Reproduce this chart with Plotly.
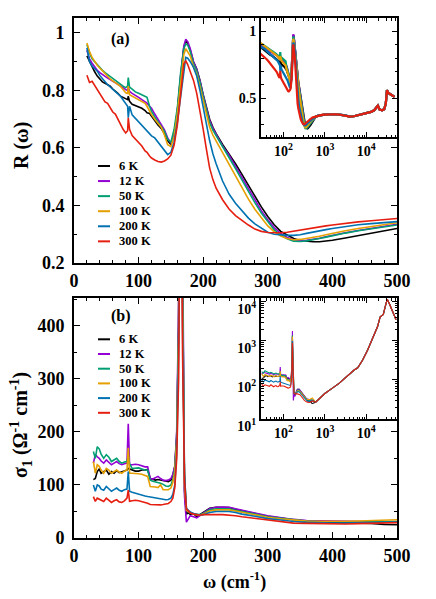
import plotly.graph_objects as go

# ---- data ----
temps = ["6 K", "12 K", "50 K", "100 K", "200 K", "300 K"]
colors = ["#000000", "#9400D3", "#009E73", "#E69F00", "#0072B2", "#E51E10"]

# panel (a): reflectivity, omega in cm-1
wn_a = [20, 24, 28, 32, 36, 40, 44, 48, 52, 56, 60, 64, 68, 72, 76, 80, 83, 84, 86, 90,
        95, 100, 105, 110, 113, 117, 120, 125, 130, 135, 140, 145, 150, 155, 160, 165, 170, 173, 176, 180,
        185, 190, 195, 200, 205, 210, 215, 220, 230, 240, 250, 260, 270, 280, 290, 300, 310, 320, 330, 340,
        350, 360, 370, 380, 390, 400, 420, 440, 460, 480, 500]

r_6K = [0.92, 0.90, 0.88, 0.865, 0.85, 0.84, 0.83, 0.825, 0.82, 0.815, 0.805, 0.798, 0.79, 0.78, 0.776, 0.772, 0.768, 0.78, 0.762, 0.752,
        0.747, 0.742, 0.738, 0.73, 0.722, 0.72, 0.71, 0.695, 0.68, 0.668, 0.65, 0.625, 0.612, 0.645, 0.727, 0.843, 0.95, 0.97, 0.965, 0.94,
        0.90, 0.875, 0.835, 0.785, 0.74, 0.70, 0.672, 0.65, 0.612, 0.58, 0.545, 0.508, 0.47, 0.432, 0.395, 0.362, 0.333, 0.31, 0.296, 0.285,
        0.278, 0.275, 0.274, 0.274, 0.276, 0.279, 0.287, 0.295, 0.304, 0.313, 0.32]
r_12K = [0.94, 0.91, 0.895, 0.882, 0.87, 0.862, 0.855, 0.848, 0.843, 0.838, 0.833, 0.828, 0.822, 0.818, 0.81, 0.803, 0.80, 0.812, 0.797, 0.79,
         0.784, 0.776, 0.768, 0.762, 0.756, 0.745, 0.738, 0.718, 0.70, 0.683, 0.663, 0.635, 0.617, 0.646, 0.73, 0.85, 0.955, 0.978, 0.97, 0.945,
         0.90, 0.873, 0.833, 0.783, 0.735, 0.695, 0.668, 0.647, 0.607, 0.575, 0.537, 0.497, 0.457, 0.418, 0.382, 0.35, 0.323, 0.303, 0.289, 0.281,
         0.278, 0.279, 0.282, 0.286, 0.291, 0.296, 0.305, 0.313, 0.32, 0.328, 0.335]
r_50K = [0.96, 0.93, 0.91, 0.90, 0.89, 0.878, 0.87, 0.862, 0.855, 0.848, 0.84, 0.835, 0.828, 0.82, 0.815, 0.81, 0.815, 0.845, 0.812, 0.805,
         0.795, 0.79, 0.785, 0.78, 0.776, 0.745, 0.727, 0.708, 0.692, 0.678, 0.658, 0.63, 0.62, 0.665, 0.74, 0.86, 0.945, 0.962, 0.958, 0.935,
         0.893, 0.868, 0.828, 0.778, 0.728, 0.688, 0.662, 0.642, 0.602, 0.567, 0.528, 0.488, 0.448, 0.41, 0.374, 0.343, 0.315, 0.297, 0.284, 0.276,
         0.275, 0.277, 0.28, 0.285, 0.29, 0.295, 0.304, 0.312, 0.319, 0.326, 0.332]
r_100K = [0.965, 0.935, 0.915, 0.90, 0.888, 0.878, 0.868, 0.858, 0.849, 0.84, 0.833, 0.826, 0.82, 0.814, 0.803, 0.792, 0.79, 0.815, 0.785, 0.78,
          0.772, 0.766, 0.76, 0.755, 0.745, 0.725, 0.716, 0.70, 0.685, 0.672, 0.645, 0.611, 0.605, 0.64, 0.72, 0.835, 0.925, 0.945, 0.935, 0.92,
          0.882, 0.857, 0.812, 0.762, 0.712, 0.672, 0.645, 0.625, 0.58, 0.54, 0.50, 0.46, 0.422, 0.387, 0.356, 0.329, 0.308, 0.294, 0.285, 0.281,
          0.282, 0.285, 0.289, 0.293, 0.298, 0.303, 0.312, 0.32, 0.327, 0.333, 0.34]
r_200K = [0.948, 0.90, 0.885, 0.875, 0.867, 0.852, 0.84, 0.83, 0.82, 0.812, 0.805, 0.798, 0.788, 0.78, 0.768, 0.758, 0.745, 0.705, 0.745, 0.715,
          0.703, 0.69, 0.68, 0.665, 0.66, 0.65, 0.642, 0.635, 0.62, 0.605, 0.588, 0.577, 0.585, 0.62, 0.69, 0.785, 0.88, 0.915, 0.912, 0.90,
          0.88, 0.85, 0.80, 0.74, 0.68, 0.625, 0.58, 0.545, 0.485, 0.44, 0.408, 0.38, 0.356, 0.336, 0.32, 0.307, 0.30, 0.297, 0.296, 0.296,
          0.298, 0.303, 0.308, 0.312, 0.316, 0.32, 0.327, 0.333, 0.337, 0.34, 0.344]
r_300K = [0.853, 0.828, 0.832, 0.818, 0.80, 0.79, 0.775, 0.76, 0.755, 0.74, 0.725, 0.718, 0.70, 0.685, 0.665, 0.652, 0.66, 0.705, 0.665, 0.643,
          0.63, 0.617, 0.607, 0.59, 0.585, 0.572, 0.565, 0.558, 0.553, 0.551, 0.555, 0.562, 0.575, 0.61, 0.68, 0.785, 0.893, 0.903, 0.89, 0.865,
          0.835, 0.79, 0.73, 0.665, 0.595, 0.53, 0.49, 0.46, 0.42, 0.388, 0.365, 0.347, 0.332, 0.318, 0.31, 0.306, 0.305, 0.305, 0.307, 0.311,
          0.315, 0.319, 0.323, 0.326, 0.329, 0.332, 0.338, 0.343, 0.347, 0.351, 0.355]

# inset (a): high-frequency part (all temperatures coincide)
wn_a_hi = [600, 700, 850, 1000, 1300, 1700, 2200, 3000, 4000, 5000, 6200, 8000, 10700, 13000, 15500, 17500, 19000,
           21000, 24000, 27000, 29500, 31500, 34000, 38000, 43000, 48000]
r_hi = [0.362, 0.37, 0.375, 0.378, 0.38, 0.38, 0.378, 0.372, 0.362, 0.365, 0.372, 0.38, 0.39, 0.398, 0.41, 0.43, 0.445,
        0.415, 0.41, 0.418, 0.46, 0.56, 0.54, 0.53, 0.52, 0.51]

# panel (b): optical conductivity
wn_b = [30, 33, 36, 39, 42, 46, 50, 54, 58, 62, 66, 70, 74, 78, 82, 84, 86, 90, 95, 100,
        105, 110, 114, 118, 122, 126, 130, 134, 138, 142, 146, 150, 153, 156, 159, 162, 165, 168, 171, 174,
        177, 180, 185, 190, 195, 200, 210, 220, 230, 240, 250, 260, 280, 300, 320, 340, 360, 380, 400, 420,
        440, 460, 480, 500]

s_6K = [110, 112, 125, 130, 122, 125, 128, 120, 125, 122, 127, 123, 125, 127, 128, 131, 130, 128, 126, 126,
        128, 128, 129, 112, 110, 109, 110, 109, 108, 106, 106, 109, 118, 135, 190, 400, 1300, 500, 90, 45,
        48, 44, 46, 40, 44, 47, 56, 58, 58, 57.5, 54, 51, 46, 41, 37.5, 34.5, 32, 30.5, 29.5, 29,
        28.5, 27.5, 25.5, 25]
s_12K = [141, 157, 153, 150, 145, 141, 147, 142, 138, 141, 144, 140, 138, 140, 141, 215, 138, 138, 139, 138,
         136, 134, 134, 112, 111, 113, 116, 112, 109, 108, 109, 112, 120, 135, 200, 450, 1800, 600, 80, 30,
         35, 42, 40, 38, 42, 47, 55, 58, 58.5, 58, 55, 52, 47, 42, 38, 35, 33, 32.5, 32, 31.5,
         31, 30.5, 30, 30]
s_50K = [163, 150, 172, 168, 158, 150, 157, 152, 144, 147, 150, 144, 141, 143, 144, 155, 140, 131, 131, 132,
         130, 128, 128, 109, 107, 106, 104, 103, 101, 98, 97, 100, 110, 130, 190, 400, 1400, 500, 120, 55,
         50, 47, 45, 44, 44, 46, 53, 55, 55.5, 55, 52, 50, 45, 40, 37, 34, 32, 31, 30.5, 30,
         30, 30.5, 31, 31]
s_100K = [144, 122, 138, 135, 128, 122, 131, 128, 122, 125, 128, 124, 122, 126, 128, 170, 122, 122, 122, 121,
          120, 118, 116, 97, 97, 96, 95, 100, 91, 90.6, 91, 94, 105, 125, 180, 380, 1300, 450, 100, 52,
          50, 48, 45, 44, 43, 45, 51, 53, 53, 53, 51, 48.6, 44, 39, 36, 33.5, 32, 31.5, 31, 31.5,
          32, 33, 34, 34.5]
s_200K = [100, 88, 100, 98, 92, 90, 97, 93, 88, 91, 94, 90, 88, 91, 92, 125, 88, 86, 84, 82,
          80, 79, 78, 77, 76, 75.5, 74, 73, 72, 72, 72.5, 75, 82, 100, 160, 350, 1000, 400, 120, 56,
          52, 49, 46, 44, 43, 44, 48, 50, 50.5, 50, 48, 45, 41, 36.5, 34, 31, 29.5, 28.5, 28, 28,
          28.5, 29, 29.5, 30]
s_300K = [78, 69, 75, 73, 70, 68.6, 75, 71, 67, 70, 72, 68, 67, 70, 75, 90, 69, 70, 71, 70,
          68.6, 67, 65.4, 63, 62.5, 62.3, 62, 62.3, 63, 63.5, 65, 68.6, 75, 95, 150, 300, 900, 350, 110, 55,
          50, 47, 45, 44, 43, 44, 44.5, 44, 44, 43.5, 42, 40, 37, 33, 30, 28, 27.5, 27, 26.5, 26.5,
          27, 27.5, 28.5, 29]

# inset (b): high-frequency part
wn_b_hi = [600, 700, 850, 1000, 1300, 1700, 2200, 3000, 4000, 5100, 6200, 8100, 10700, 14000, 18600, 21500,
           25700, 29000, 32000, 36000, 40000, 47000, 52000]
s_hi = [27, 32, 39, 45, 55, 66, 82, 110, 145, 180, 205, 320, 580, 1150, 2300, 4100,
        4800, 8000, 11700, 9000, 6800, 4100, 3500]

refl = [r_6K, r_12K, r_50K, r_100K, r_200K, r_300K]
cond = [s_6K, s_12K, s_50K, s_100K, s_200K, s_300K]

FONT = "Liberation Serif"
# the page body has an 8 px margin, so the figure is drawn 8 px smaller
OFF = 8
W, H = 436 - OFF, 599 - OFF


def px(xp):
    return (xp - OFF) / W


def py(yp):
    return 1 - (yp - OFF) / H


fig = go.Figure()

for name, col, r in zip(temps, colors, refl):
    fig.add_trace(go.Scatter(x=wn_a, y=r, mode="lines", name=name, line=dict(color=col, width=1.6),
                             xaxis="x", yaxis="y", showlegend=False))
for name, col, r in zip(temps, colors, refl):
    fig.add_trace(go.Scatter(x=wn_a + wn_a_hi, y=r + r_hi, mode="lines", showlegend=False,
                             line=dict(color=col, width=2.2), xaxis="x3", yaxis="y3"))
for name, col, s in zip(temps, colors, cond):
    fig.add_trace(go.Scatter(x=wn_b, y=s, mode="lines", name=name, line=dict(color=col, width=1.6),
                             xaxis="x2", yaxis="y2", showlegend=False))
for name, col, s in zip(temps, colors, cond):
    fig.add_trace(go.Scatter(x=wn_b + wn_b_hi, y=s + s_hi, mode="lines", showlegend=False,
                             line=dict(color=col, width=1.1), xaxis="x4", yaxis="y4"))

main_tick = dict(family=FONT, size=18, color="black", weight="bold")
ins_tick = dict(family=FONT, size=14, color="black", weight="bold")
frame = dict(showline=True, linewidth=2, linecolor="black", mirror="allticks", ticks="inside",
             tickwidth=1.2, tickcolor="black", showgrid=False, zeroline=False, automargin=False)

x_main = dict(frame, range=[0, 500], dtick=100, ticklen=6, tickfont=main_tick,
              minor=dict(ticks="inside", dtick=20, ticklen=3, tickcolor="black"))
ins_x = dict(frame, type="log", range=[1.46, 4.74], tickvals=[100, 1000, 10000],
             ticktext=["10<sup>2</sup>", "10<sup>3</sup>", "10<sup>4</sup>"], ticklen=5, tickfont=ins_tick,
             minor=dict(ticks="inside", ticklen=2.5, tickcolor="black",
                        tickvals=[30, 40, 50, 60, 70, 80, 90, 200, 300, 400, 500, 600, 700, 800, 900,
                                  2000, 3000, 4000, 5000, 6000, 7000, 8000, 9000, 20000, 30000, 40000, 50000]))

fig.update_layout(
    width=W, height=H,
    margin=dict(l=0, r=0, t=0, b=0),
    paper_bgcolor="white", plot_bgcolor="white",
    showlegend=False,
    xaxis=dict(x_main, domain=[px(74), px(397)], anchor="y"),
    yaxis=dict(frame, domain=[py(263), py(18)], anchor="x", range=[0.2, 1.052], dtick=0.2, ticklen=6,
               ticklabelstandoff=4, tickfont=main_tick,
               minor=dict(ticks="inside", dtick=0.1, ticklen=3, tickcolor="black")),
    xaxis2=dict(x_main, domain=[px(74), px(397)], anchor="y2"),
    yaxis2=dict(frame, domain=[py(538), py(298)], anchor="x2", range=[0, 452], dtick=100, ticklen=6,
                ticklabelstandoff=4, tickfont=main_tick,
                minor=dict(ticks="inside", dtick=50, ticklen=3, tickcolor="black")),
    xaxis3=dict(ins_x, domain=[px(261), px(397)], anchor="y3"),
    yaxis3=dict(frame, domain=[py(137), py(18)], anchor="x3", range=[0.21, 1.1], tickvals=[0.5, 1.0],
                ticktext=["0.5", "1"], ticklen=5, tickfont=ins_tick,
                minor=dict(ticks="inside", tickvals=[0.3, 0.4, 0.6, 0.7, 0.8, 0.9], ticklen=2.5, tickcolor="black")),
    xaxis4=dict(ins_x, domain=[px(261), px(397)], anchor="y4"),
    yaxis4=dict(frame, type="log", domain=[py(419), py(298)], anchor="x4", range=[1, 4.1],
                tickvals=[10, 100, 1000, 10000],
                ticktext=["10<sup>1</sup>", "10<sup>2</sup>", "10<sup>3</sup>", "10<sup>4</sup>"],
                ticklen=5, tickfont=ins_tick, ticklabelshift=7,
                minor=dict(ticks="inside", ticklen=2.5, tickcolor="black",
                           tickvals=[20, 30, 40, 50, 60, 70, 80, 90, 200, 300, 400, 500, 600, 700, 800, 900,
                                     2000, 3000, 4000, 5000, 6000, 7000, 8000, 9000])),
)

# compact legends (key line + label), as in the original figure
leg_font = dict(family=FONT, size=12.5, color="black", weight="bold")
for top, step in [(166, 15.07), (339.3, 14.7)]:
    for i, (name, col) in enumerate(zip(temps, colors)):
        yp = py(top + i * step)
        fig.add_shape(type="line", xref="paper", yref="paper", x0=px(98), x1=px(110), y0=yp, y1=yp,
                      line=dict(color=col, width=2))
        fig.add_annotation(text=name, x=px(116.5), y=yp, xref="paper", yref="paper", xanchor="left",
                           yanchor="middle", showarrow=False, font=leg_font)


def label(text, xp, yp, size, angle=0):
    fig.add_annotation(text=text, x=px(xp), y=py(yp), xref="paper", yref="paper",
                       xanchor="center", yanchor="middle", showarrow=False, textangle=angle,
                       font=dict(family=FONT, size=size, color="black", weight="bold"))


label("(a)", 120.7, 39.3, 16)
label("(b)", 120.7, 316, 16)
label("R (ω)", 21, 146, 20, -90)
label("σ<sub>1</sub> (Ω<sup>-1</sup> cm<sup>-1</sup>)", 21, 425, 20, -90)
label("ω (cm<sup>-1</sup>)", 234, 581, 18)

fig.write_html("out.html")
